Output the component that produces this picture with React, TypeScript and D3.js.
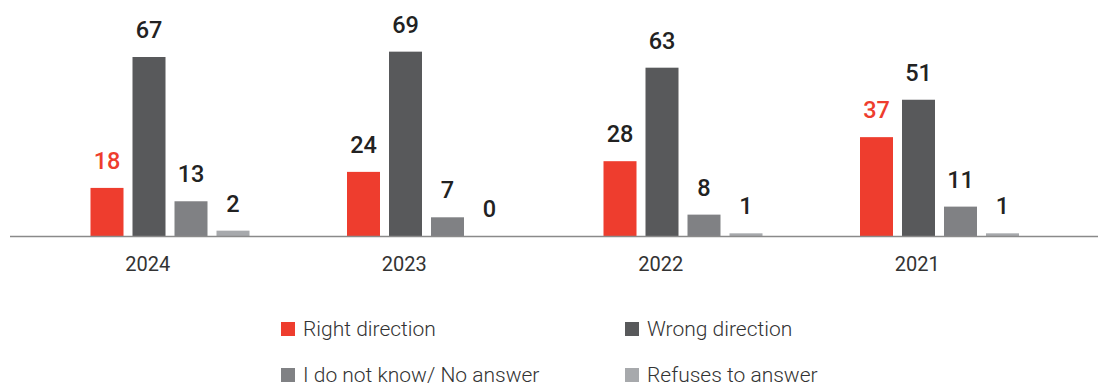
import React from "react";
import * as d3 from "d3";

const years = ["2024", "2023", "2022", "2021"];
const series = ["Right direction", "Wrong direction", "I do not know/ No answer", "Refuses to answer"];
const rightDirection = [18, 24, 28, 37];
const wrongDirection = [67, 69, 63, 51];
const dontKnow = [13, 7, 8, 11];
const refuses = [2, 0, 1, 1];
const colors = ["#ee3d2e", "#58595b", "#808184", "#a7a9ac"];
const highlightYears = ["2024", "2021"];

const W = 1098;
const H = 383;
const baseY = 236;

export default function App() {
  const values = [rightDirection, wrongDirection, dontKnow, refuses];
  const x0 = d3.scaleBand().domain(years).range([19.5, 19.5 + 256.5 * 4]).padding(0);
  const x1 = d3
    .scaleBand()
    .domain(series)
    .range([66.5, 234.5])
    .paddingInner(9 / 42)
    .paddingOuter(4.5 / 42);
  const y = d3.scaleLinear().domain([0, 67]).range([baseY, 57]);

  const legendPos = [
    { x: 281, y: 322 },
    { x: 625, y: 322 },
    { x: 281, y: 368 },
    { x: 625, y: 368 },
  ];

  return (
    <svg
      width={W}
      height={H}
      style={{ position: "absolute", left: 0, top: 0, fontFamily: "Roboto, sans-serif" }}
    >
      <rect width={W} height={H} fill="#ffffff" />
      {years.map((yr, i) => (
        <g key={yr} transform={`translate(${x0(yr)},0)`}>
          {series.map((s, j) => {
            const v = values[j][i];
            const top = y(v);
            const red = j === 0 && highlightYears.includes(yr);
            return (
              <g key={s}>
                {v > 0 && (
                  <rect x={x1(s)} y={top} width={x1.bandwidth()} height={baseY - top} fill={colors[j]} />
                )}
                <text
                  x={(x1(s) as number) + x1.bandwidth() / 2}
                  y={top - 19}
                  textAnchor="middle"
                  fontSize={23.5}
                  fontWeight={500}
                  fill={red ? colors[0] : "#222222"}
                >
                  {v}
                </text>
              </g>
            );
          })}
          <text
            x={x0.bandwidth() / 2}
            y={271}
            textAnchor="middle"
            fontSize={20}
            fill="#333333"
          >
            {yr}
          </text>
        </g>
      ))}
      <line x1={10} x2={W} y1={baseY + 0.5} y2={baseY + 0.5} stroke="#8a8a8a" strokeWidth={1.5} />
      {series.map((s, j) => (
        <g key={s} transform={`translate(${legendPos[j].x},${legendPos[j].y})`}>
          <rect x={0} y={0} width={14} height={14} fill={colors[j]} />
          <text x={22} y={13.5} fontSize={21} fontWeight={300} fill="#333333">
            {s}
          </text>
        </g>
      ))}
    </svg>
  );
}
